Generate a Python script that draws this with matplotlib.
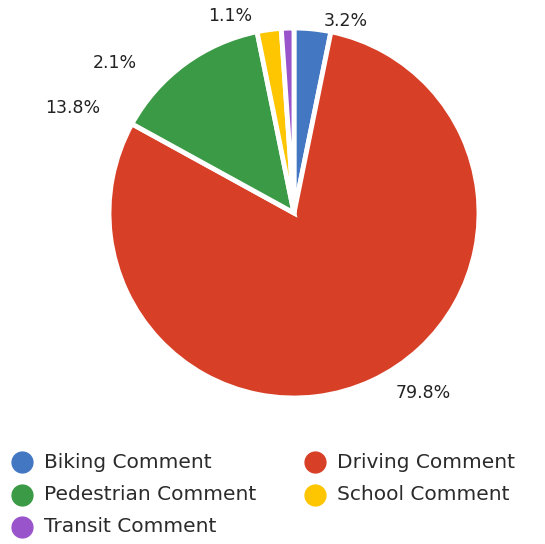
import matplotlib
matplotlib.use("Agg")
import matplotlib.pyplot as plt
from matplotlib.lines import Line2D

categories = ["Biking Comment", "Driving Comment", "Pedestrian Comment", "School Comment", "Transit Comment"]
values = [3.2, 79.8, 13.8, 2.1, 1.1]
labels = ["3.2%", "79.8%", "13.8%", "2.1%", "1.1%"]
colors = ["#4377C2", "#D83F27", "#3A9A45", "#FEC501", "#9A54CB"]

# label positions in pie data coordinates (layout)
label_pos = [(0.281, 1.038), (0.697, -0.973), (-1.195, 0.568), (-0.968, 0.811), (-0.346, 1.065)]

W, H = 545, 544
CX, CY, R = 294, 213, 185
fig = plt.figure(figsize=(W/100, H/100), dpi=100)
ax = fig.add_axes([(CX - R)/W, (H - CY - R)/H, 2*R/W, 2*R/H])
wedges, _ = ax.pie(values, colors=colors, startangle=90, counterclock=False,
                   wedgeprops=dict(edgecolor="white", linewidth=3.5))
ax.set_xlim(-1, 1)
ax.set_ylim(-1, 1)
ax.set_aspect("equal")
ax.axis("off")

for lab, (x, y) in zip(labels, label_pos):
    ax.text(x, y, lab, ha="center", va="center", fontsize=12.5, color="#222222", clip_on=False)

# manual legend layout (row-major, 2 columns)
col_x = [22, 315]
row_y = [462, 495, 527]
for i, (cat, c) in enumerate(zip(categories, colors)):
    cx = col_x[i % 2]
    cy = row_y[i // 2]
    fig.add_artist(Line2D([cx/W], [1 - cy/H], marker="o", linestyle="", markersize=15,
                          markerfacecolor=c, markeredgecolor=c, transform=fig.transFigure))
    fig.text((cx + 22)/W, 1 - cy/H, cat, ha="left", va="center", fontsize=14.5, color="#2b2b2b")

fig.savefig("out.png", dpi=100)
